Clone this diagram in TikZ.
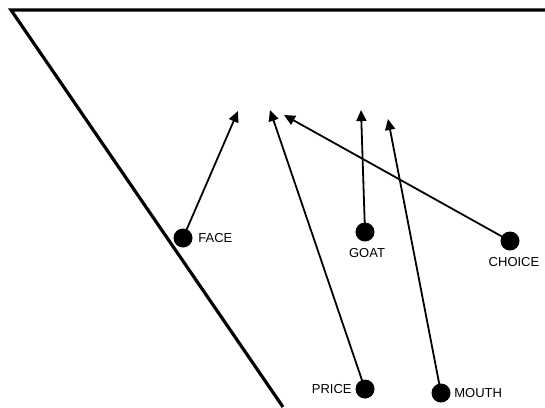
\documentclass[tikz,border=0pt]{standalone}
\usepackage{fontspec}
\setmainfont{Liberation Sans}
\usepackage{tikz}
\usetikzlibrary{arrows.meta,positioning}
\tikzset{dot/.style={circle, fill=black, inner sep=0pt, minimum size=19pt},
	word/.style={font=\fontsize{13}{15}\selectfont, inner sep=1pt},
	link/.style={line width=1.8pt, -{Triangle[length=11pt,width=10pt]}},
	frame/.style={line width=3.2pt}}

\begin{document}
\begin{tikzpicture}[x=1pt,y=-1pt]
	\useasboundingbox (0,0) rectangle (545,407);
	\draw[frame] (545,10) -- (11,10) -- (283,407);
	\node[dot] (face) at (183,238) {};
	\node[dot] (goat) at (365,232) {};
	\node[dot] (choice) at (510,241) {};
	\node[dot] (price) at (365,389) {};
	\node[dot] (mouth) at (441,393) {};
	\node[word, right=4.5pt of face] (faceLbl) {FACE};
	\node[word, below=5.5pt of goat, xshift=2pt] (goatLbl) {GOAT};
	\node[word, below=6pt of choice, xshift=4pt] (choiceLbl) {CHOICE};
	\node[word, left=2.5pt of price] (priceLbl) {PRICE};
	\node[word, right=2.5pt of mouth] (mouthLbl) {MOUTH};
	\coordinate (faceTip) at (238,111);
	\coordinate (priceTip) at (270,110);
	\coordinate (choiceTip) at (284,115);
	\coordinate (goatTip) at (361,110);
	\coordinate (mouthTip) at (388,119);
	\draw[link] (face.center) -- (faceTip);
	\draw[link] (price.center) -- (priceTip);
	\draw[link] (choice.center) -- (choiceTip);
	\draw[link] (goat.center) -- (goatTip);
	\draw[link] (mouth.center) -- (mouthTip);
\end{tikzpicture}
\end{document}
